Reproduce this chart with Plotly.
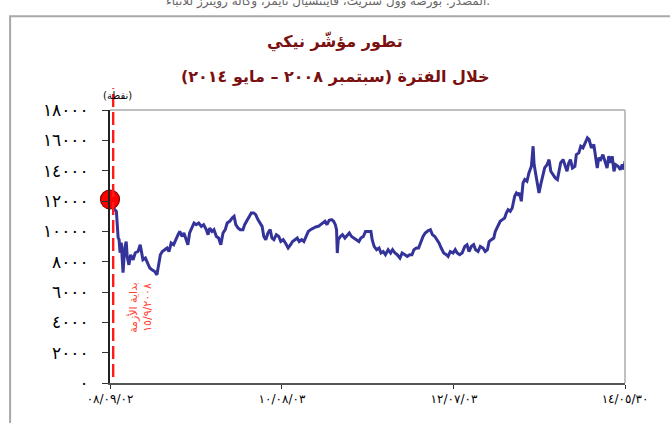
import plotly.graph_objects as go

# Nikkei 225 closing level (points), Sept 2008 - May 2014
dates = [
    "2008-09-02", "2008-09-21", "2008-09-28", "2008-10-05", "2008-10-09", "2008-10-13",
    "2008-10-18", "2008-10-25", "2008-11-01", "2008-11-07", "2008-11-11", "2008-11-18",
    "2008-11-25", "2008-12-05", "2008-12-14", "2008-12-25", "2009-01-03", "2009-01-07",
    "2009-01-14", "2009-01-24", "2009-02-01", "2009-02-11", "2009-02-20", "2009-03-03",
    "2009-03-12", "2009-03-19", "2009-03-26", "2009-04-03", "2009-04-13", "2009-04-22",
    "2009-04-30", "2009-05-09", "2009-05-19", "2009-05-27", "2009-06-06", "2009-06-13",
    "2009-06-22", "2009-06-30", "2009-07-10", "2009-07-16", "2009-07-23", "2009-08-02",
    "2009-08-10", "2009-08-19", "2009-08-29", "2009-09-09", "2009-09-18", "2009-09-29",
    "2009-10-06", "2009-10-13", "2009-10-22", "2009-10-30", "2009-11-09", "2009-11-18",
    "2009-11-27", "2009-12-06", "2009-12-15", "2009-12-23", "2010-01-02", "2010-01-12",
    "2010-01-20", "2010-01-27", "2010-02-05", "2010-02-14", "2010-02-25", "2010-03-04",
    "2010-03-12", "2010-03-21", "2010-03-31", "2010-04-10", "2010-04-18", "2010-04-27",
    "2010-05-05", "2010-05-14", "2010-05-21", "2010-05-29", "2010-06-07", "2010-06-16",
    "2010-06-23", "2010-07-01", "2010-07-11", "2010-07-21", "2010-07-29", "2010-08-08",
    "2010-08-17", "2010-08-28", "2010-09-07", "2010-09-15", "2010-09-25", "2010-10-04",
    "2010-10-12", "2010-10-22", "2010-10-31", "2010-11-08", "2010-11-18", "2010-11-27",
    "2010-12-08", "2010-12-18", "2010-12-29", "2011-01-07", "2011-01-15", "2011-01-25",
    "2011-02-02", "2011-02-11", "2011-02-21", "2011-03-01", "2011-03-08", "2011-03-13",
    "2011-03-16", "2011-03-20", "2011-03-29", "2011-04-06", "2011-04-16", "2011-04-26",
    "2011-05-04", "2011-05-13", "2011-05-23", "2011-06-02", "2011-06-12", "2011-06-20",
    "2011-06-30", "2011-07-09", "2011-07-20", "2011-07-31", "2011-08-05", "2011-08-13",
    "2011-08-23", "2011-09-02", "2011-09-10", "2011-09-19", "2011-09-28", "2011-10-09",
    "2011-10-19", "2011-10-27", "2011-11-06", "2011-11-15", "2011-11-26", "2011-12-05",
    "2011-12-16", "2011-12-26", "2012-01-05", "2012-01-14", "2012-01-22", "2012-02-01",
    "2012-02-10", "2012-02-19", "2012-02-28", "2012-03-08", "2012-03-19", "2012-03-29",
    "2012-04-06", "2012-04-16", "2012-04-25", "2012-05-03", "2012-05-12", "2012-05-22",
    "2012-06-02", "2012-06-09", "2012-06-18", "2012-06-29", "2012-07-08", "2012-07-16",
    "2012-07-26", "2012-08-05", "2012-08-16", "2012-08-25", "2012-09-02", "2012-09-12",
    "2012-09-21", "2012-09-29", "2012-10-09", "2012-10-18", "2012-10-29", "2012-11-07",
    "2012-11-16", "2012-11-23", "2012-12-02", "2012-12-12", "2012-12-18", "2012-12-29",
    "2013-01-07", "2013-01-16", "2013-01-25", "2013-02-01", "2013-02-08", "2013-02-17",
    "2013-02-25", "2013-03-07", "2013-03-14", "2013-03-21", "2013-03-27", "2013-04-03",
    "2013-04-10", "2013-04-17", "2013-04-26", "2013-05-04", "2013-05-14", "2013-05-21",
    "2013-05-25", "2013-06-01", "2013-06-07", "2013-06-14", "2013-06-21", "2013-06-27",
    "2013-07-07", "2013-07-17", "2013-07-25", "2013-08-01", "2013-08-10", "2013-08-19",
    "2013-08-28", "2013-09-03", "2013-09-10", "2013-09-20", "2013-09-27", "2013-10-06",
    "2013-10-13", "2013-10-20", "2013-10-28", "2013-11-07", "2013-11-13", "2013-11-23",
    "2013-12-01", "2013-12-10", "2013-12-19", "2013-12-28", "2014-01-04", "2014-01-13",
    "2014-01-23", "2014-01-31", "2014-02-06", "2014-02-12", "2014-02-20", "2014-03-01",
    "2014-03-08", "2014-03-18", "2014-03-25", "2014-04-02", "2014-04-08", "2014-04-15",
    "2014-04-22", "2014-05-02", "2014-05-11", "2014-05-19", "2014-05-26", "2014-05-30",
]
nikkei = [
    12100, 11430, 11320, 9580, 9450, 8590,
    9250, 7270, 8920, 9330, 8340, 7790,
    8450, 8130, 8590, 8670, 9120, 8670,
    8130, 8240, 7910, 7580, 7470, 7350,
    7130, 7910, 8460, 8670, 8790, 8900,
    8670, 9230, 9120, 9450, 9780, 9990,
    9660, 9890, 9450, 9120, 9890, 10330,
    10550, 10440, 10550, 10330, 10440, 10110,
    9780, 10220, 9990, 10110, 9660, 9560,
    9120, 9890, 10110, 10550, 10660, 10880,
    10990, 10440, 10220, 10110, 10110, 10440,
    10660, 10880, 11210, 11210, 11100, 10770,
    10550, 10330, 9660, 9450, 9890, 10110,
    9560, 9450, 9780, 9660, 9330, 9450,
    9230, 8900, 9120, 9330, 9450, 9560,
    9330, 9450, 9330, 9660, 9990, 10110,
    10220, 10290, 10330, 10440, 10550, 10660,
    10440, 10730, 10770, 10660, 10440, 10110,
    8570, 9450, 9660, 9780, 9560, 9780,
    9890, 9660, 9560, 9450, 9330, 9560,
    9660, 9990, 9990, 9990, 9450, 9010,
    8790, 8900, 8570, 8670, 8460, 8790,
    8570, 8790, 8570, 8460, 8240, 8570,
    8460, 8350, 8460, 8460, 8790, 8900,
    8900, 9330, 9660, 9890, 10040, 10110,
    9780, 9660, 9450, 9230, 8900, 8570,
    8460, 8350, 8670, 8570, 8790, 8570,
    8460, 8570, 9010, 9120, 8670, 9010,
    9120, 8790, 8670, 9010, 8900, 8670,
    8790, 9330, 9450, 9560, 9990, 10330,
    10660, 10770, 10880, 11210, 11430, 11320,
    11540, 12310, 12530, 12420, 12530, 11980,
    13190, 13410, 13300, 13850, 14290, 15610,
    14400, 13740, 13190, 12530, 13080, 13520,
    14180, 14400, 14730, 13960, 13740, 13520,
    13410, 13850, 14510, 14730, 14400, 13960,
    14510, 14730, 14180, 14290, 15060, 15170,
    15610, 15500, 15830, 16160, 16050, 15500,
    15720, 14950, 14180, 14840, 14730, 15060,
    14620, 14180, 14950, 14510, 14950, 13960,
    14400, 14290, 14070, 14400, 14070, 14620,
]

# Axis ticks
x_tick_dates = ["2008-09-02", "2010-08-03", "2012-07-03", "2014-05-30"]
x_tick_text = ["٠٨/٠٩/٠٢", "١٠/٠٨/٠٣", "١٢/٠٧/٠٣", "١٤/٠٥/٣٠"]
y_tick_values = [0, 2000, 4000, 6000, 8000, 10000, 12000, 14000, 16000, 18000]
y_tick_text = ["٠", "٢٠٠٠", "٤٠٠٠", "٦٠٠٠", "٨٠٠٠", "١٠٠٠٠",
               "١٢٠٠٠", "١٤٠٠٠", "١٦٠٠٠", "١٨٠٠٠"]

crisis_date = "2008-09-15"
crisis_label = "بداية الأزمة<br>١٥/٩/٢٠٠٨"

title_main = "تطور مؤشّر نيكي"
title_sub = "خلال الفترة (سبتمبر ٢٠٠٨ – مايو ٢٠١٤)"
unit_label = "(نقطة)"
source_note = "المصدر: بورصة وول ستريت، فايننشيال تايمز، وكالة رويترز للأنباء."

FONT = "DejaVu Sans"
TITLE_RED = "#7a1010"

fig = go.Figure()

fig.add_trace(go.Scatter(
    x=dates, y=nikkei, mode="lines",
    line=dict(color="#333399", width=3),
    hoverinfo="x+y", showlegend=False,
))

# starting level marker
fig.add_trace(go.Scatter(
    x=[dates[0]], y=[nikkei[0]], mode="markers",
    marker=dict(size=19, color="#ff0000", line=dict(color="#8b0000", width=1.2)),
    showlegend=False, cliponaxis=False,
))

shapes = [
    # crisis start marker line
    dict(type="line", xref="x", yref="paper", x0=crisis_date, x1=crisis_date,
         y0=0.022, y1=1.08, line=dict(color="#ff1a1a", width=2.4, dash="13px,5px")),
    # light frame on top / right of plot area
    dict(type="line", xref="paper", yref="paper", x0=0, x1=1, y0=1, y1=1,
         line=dict(color="#c0c0c0", width=2)),
    dict(type="line", xref="paper", yref="paper", x0=1, x1=1, y0=0, y1=1,
         line=dict(color="#c0c0c0", width=2)),
    # outer box around the chart
    dict(type="rect", xref="paper", yref="paper", x0=-0.194, x1=1.12, y0=-0.2, y1=1.343,
         line=dict(color="#a8a8a8", width=2), fillcolor="rgba(0,0,0,0)", layer="below"),
]

annotations = [
    dict(text=f"<b>{title_main}</b>", xref="paper", yref="paper", x=0.437, y=1.2514,
         xanchor="center", yanchor="middle", showarrow=False,
         font=dict(family=FONT, size=16, color=TITLE_RED)),
    dict(text=f"<b>{title_sub}</b>", xref="paper", yref="paper", x=0.437, y=1.1229,
         xanchor="center", yanchor="middle", showarrow=False,
         font=dict(family=FONT, size=16, color=TITLE_RED)),
    dict(text=unit_label, xref="paper", yref="paper", x=0.0155, y=1.052,
         xanchor="center", yanchor="middle", showarrow=False,
         font=dict(family=FONT, size=10, color="#000000")),
    dict(text=source_note, xref="paper", yref="paper", x=0.7417, y=1.398,
         xanchor="right", yanchor="middle", showarrow=False,
         font=dict(family=FONT, size=12, color="#666666")),
    dict(text=crisis_label, xref="paper", yref="paper", x=0.0592, y=0.277,
         xanchor="center", yanchor="middle", showarrow=False, textangle=-90,
         font=dict(family=FONT, size=11, color="#ff4433")),
]

fig.update_layout(
    width=670, height=423,
    margin=dict(l=110, r=45, t=110, b=40),
    paper_bgcolor="#ffffff", plot_bgcolor="#ffffff",
    font=dict(family=FONT, color="#000000"),
    shapes=shapes, annotations=annotations,
    showlegend=False,
)

fig.update_xaxes(
    type="date", range=["2008-09-02", "2014-05-30"],
    tickvals=x_tick_dates, ticktext=x_tick_text,
    ticks="outside", ticklen=4, tickwidth=1, tickcolor="#333333",
    showline=True, linecolor="#555555", linewidth=2,
    showgrid=False, zeroline=False,
    tickfont=dict(family=FONT, size=12, color="#000000"),
)
fig.update_yaxes(
    range=[0, 18000],
    tickvals=y_tick_values, ticktext=y_tick_text,
    ticks="outside", ticklen=6, tickwidth=1, tickcolor="#333333",
    showline=True, linecolor="#222222", linewidth=2,
    showgrid=False, zeroline=False,
    ticklabelstandoff=10,
    tickfont=dict(family=FONT, size=17, color="#000000"),
)

fig.write_html("out.html")
